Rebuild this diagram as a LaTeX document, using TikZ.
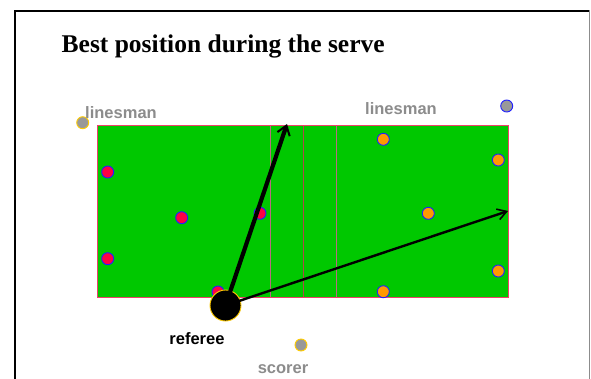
\documentclass[tikz,border=0pt]{standalone}
\usepackage{fontspec}
\setmainfont{Liberation Serif}
\newfontfamily\lsans{Liberation Sans}
\usetikzlibrary{arrows.meta}
\definecolor{courtgreen}{HTML}{00C800}
\definecolor{courtred}{HTML}{F0406A}
\definecolor{sideline}{HTML}{B86C80}
\definecolor{midline}{HTML}{B04848}
\definecolor{redp}{HTML}{FF0044}
\definecolor{orangep}{HTML}{FF9900}
\definecolor{greyp}{HTML}{999999}
\definecolor{bluep}{HTML}{2020FF}
\definecolor{yellowp}{HTML}{FFCC00}
\definecolor{labelgrey}{HTML}{8C8C8C}
\tikzset{
  redplayer/.style={circle, fill=redp, draw=bluep, line width=0.9pt, minimum size=12pt, inner sep=0pt},
  orangeplayer/.style={circle, fill=orangep, draw=bluep, line width=0.9pt, minimum size=12pt, inner sep=0pt},
  official/.style={circle, fill=greyp, line width=0.9pt, minimum size=12pt, inner sep=0pt},
  greylabel/.style={text=labelgrey, font=\lsans\bfseries\fontsize{16.5}{18}\selectfont, inner sep=0pt, anchor=base},
  blacklabel/.style={text=black, font=\lsans\bfseries\fontsize{16.5}{18}\selectfont, inner sep=0pt, anchor=base},
  courtline/.style={line width=1pt},
}
\begin{document}
\begin{tikzpicture}[x=1pt,y=-1pt]
\useasboundingbox (0,0) rectangle (591,378);
\fill[white] (0,0) rectangle (591,378);
% frame
\draw[black, line width=2.2pt] (15,380) -- (15,11) -- (589,11);
\draw[labelgrey, line width=1pt] (589.5,10) -- (589.5,380);
% title
\node[font=\bfseries\fontsize{25.5}{30}\selectfont, anchor=base west, inner sep=0pt] (title) at (61.5,52) {Best position during the serve};
% court
\fill[courtgreen] (97.5,125) rectangle (508,297);
\draw[sideline, courtline] (270,125) -- (270,297);
\draw[midline, courtline] (303,125) -- (303,297);
\draw[sideline, courtline] (336,125) -- (336,297);
\draw[courtred, courtline] (97.5,125) rectangle (508,297);
% red team
\node[redplayer] (r1) at (107.7,172) {};
\node[redplayer] (r2) at (181.7,217.7) {};
\node[redplayer] (r3) at (260,213.3) {};
\node[redplayer] (r4) at (107.7,258.7) {};
\node[redplayer] (r5) at (218,292) {};
% orange team
\node[orangeplayer] (o1) at (383.3,139.3) {};
\node[orangeplayer] (o2) at (498.3,160) {};
\node[orangeplayer] (o3) at (428.3,213.3) {};
\node[orangeplayer] (o4) at (498.3,271) {};
\node[orangeplayer] (o5) at (383.3,291.7) {};
% officials
\node[official, draw=yellowp] (l1) at (82.7,122.7) {};
\node[official, draw=bluep] (l2) at (506.7,106) {};
\node[official, draw=yellowp] (sc) at (301,345) {};
\node[circle, fill=black, draw=yellowp, line width=0.9pt, minimum size=31pt, inner sep=0pt] (ref) at (225.5,305.5) {};
% targets
\coordinate (t1) at (287,124);
\coordinate (t2) at (508,211);
\draw[line width=4.2pt, -{Straight Barb[length=9pt,width=13pt,line width=2pt]}] (ref.center) -- (t1);
\draw[line width=2.4pt, -{Straight Barb[length=9pt,width=11pt,line width=1.6pt]}] (ref.center) -- (t2);
% labels
\node[greylabel] (lab1) at (121,118) {linesman};
\node[greylabel] (lab2) at (401,114) {linesman};
\node[blacklabel] (lab3) at (197,344) {referee};
\node[greylabel] (lab4) at (283,373) {scorer};
\end{tikzpicture}
\end{document}
